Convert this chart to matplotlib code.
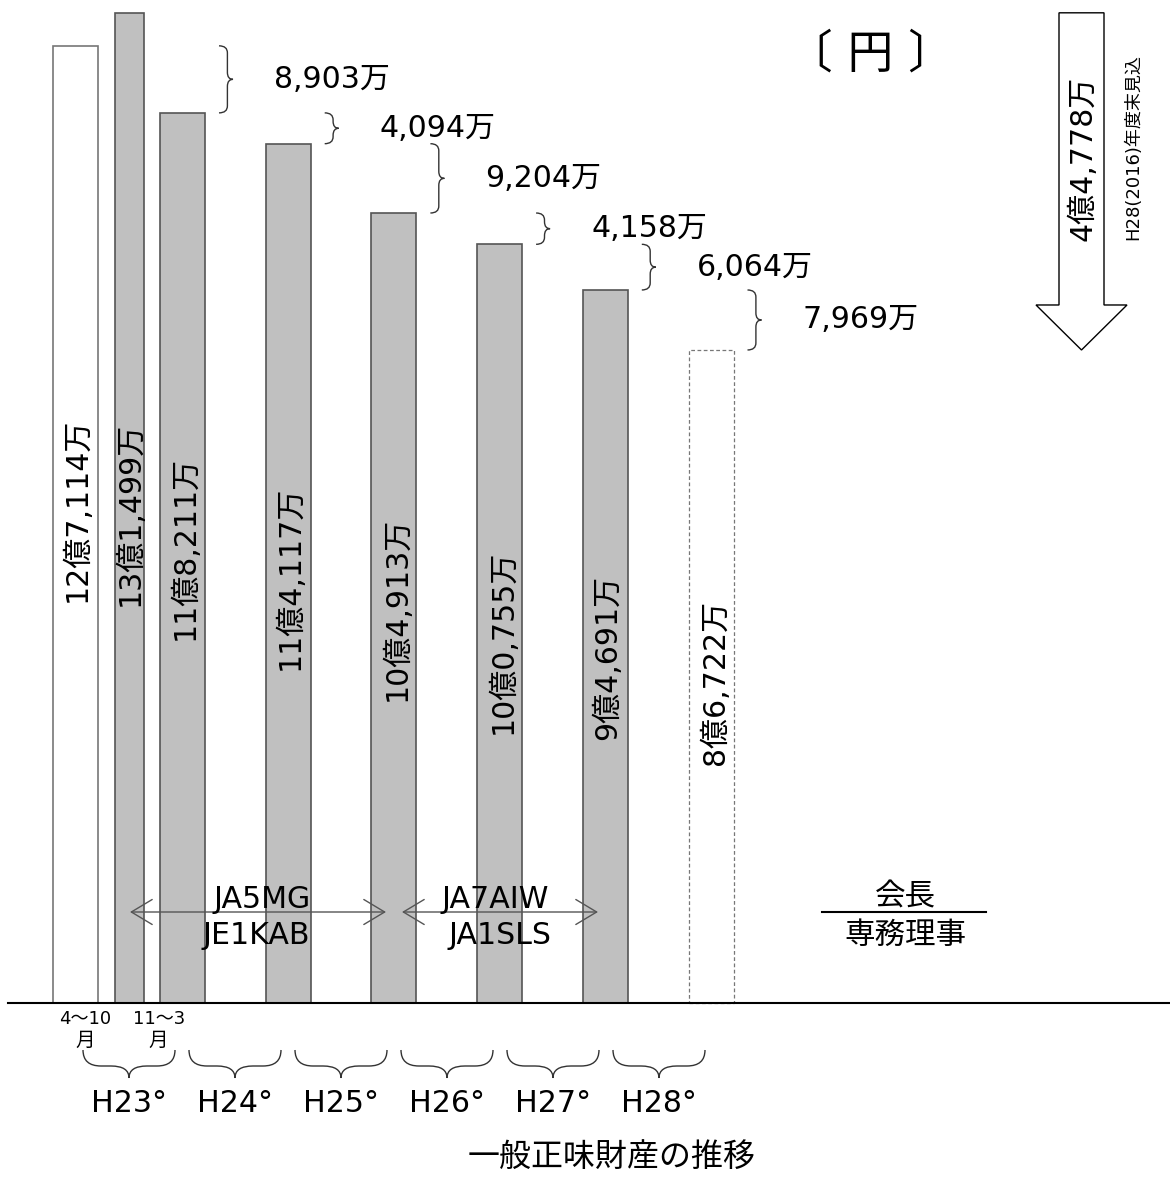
import matplotlib
matplotlib.use("Agg")
import matplotlib.pyplot as plt
from matplotlib.path import Path
from matplotlib.patches import PathPatch, Polygon

plt.rcParams["font.family"] = ["DejaVu Sans", "Noto Sans CJK JP"]

# 一般正味財産 (単位: 万円)
periods = ["H23 4~10月", "H23 11~3月", "H23", "H24", "H25", "H26", "H27", "H28"]
values = [127114, 131499, 118211, 114117, 104913, 100755, 94691, 86722]
years = ["H23°", "H24°", "H25°", "H26°", "H27°", "H28°"]
total_drop = 44778
# brace pairs (upper bar, lower bar)
pairs = [(0, 2), (2, 3), (3, 4), (4, 5), (5, 6), (6, 7)]

# layout (pixels of a 1170x1183 canvas)
W, H = 1170, 1183
BASE_PX = 1003
PX = 0.00753  # px per 万
bar_x = [75.5, 129.5] + [182.5 + 105.7 * k for k in range(6)]
bar_w = [45, 29, 45, 45, 45, 45, 45, 45]
label_y = [510, 514, 548, 578, 609, 642, 657, 682]
label_dx = [2, 1, 3, 2, 3, 3, 2, 4]
FS = 21.6


def Y(px):
    return (BASE_PX - px) / PX


def oku(v):
    rem = f"{v % 10000:04d}"
    return f"{v // 10000}億{rem[0]},{rem[1:]}万"


def vbrace(ax, x0, w, y_top, y_bot, r_px=7):
    hpx = (y_top - y_bot) * PX
    r = min(r_px, hpx / 4) / PX
    xs, xt = x0 + 0.6 * w, x0 + w
    ym = (y_top + y_bot) / 2
    verts = [(x0, y_top), (xs, y_top), (xs, y_top - r), (xs, ym + r),
             (xs, ym), (xt, ym), (xs, ym), (xs, ym - r),
             (xs, y_bot + r), (xs, y_bot), (x0, y_bot)]
    codes = [Path.MOVETO, Path.CURVE3, Path.CURVE3, Path.LINETO,
             Path.CURVE3, Path.CURVE3, Path.CURVE3, Path.CURVE3,
             Path.LINETO, Path.CURVE3, Path.CURVE3]
    ax.add_patch(PathPatch(Path(verts, codes), fc="none", ec="#333", lw=1))


def hbrace(ax, xa, xb, ye, ysp, yt, rx=18):
    xm = (xa + xb) / 2
    verts = [(xa, ye), (xa, ysp), (xa + rx, ysp), (xm - rx, ysp),
             (xm, ysp), (xm, yt), (xm, ysp), (xm + rx, ysp),
             (xb - rx, ysp), (xb, ysp), (xb, ye)]
    codes = [Path.MOVETO, Path.CURVE3, Path.CURVE3, Path.LINETO,
             Path.CURVE3, Path.CURVE3, Path.CURVE3, Path.CURVE3,
             Path.LINETO, Path.CURVE3, Path.CURVE3]
    ax.add_patch(PathPatch(Path(verts, codes), fc="none", ec="#333", lw=1))


fig = plt.figure(figsize=(W / 100, H / 100), dpi=100)
ax = fig.add_axes([0, 0, 1, 1])
ax.set_xlim(0, W)
ax.set_ylim(Y(H), Y(0))
ax.axis("off")

faces = ["white"] + ["#c0c0c0"] * 6 + ["white"]
edges = ["#777"] + ["#555"] * 6 + ["#777"]
bars = ax.bar(bar_x, values, width=bar_w, color=faces, edgecolor=edges,
              linewidth=1.2, zorder=2)
bars[-1].set_linestyle((0, (3, 2)))
bars[-1].set_linewidth(0.9)

for i, v in enumerate(values):
    ax.text(bar_x[i] + label_dx[i], Y(label_y[i]), oku(v), rotation=90,
            ha="center", va="center", fontsize=FS, zorder=3)

# baseline
ax.plot([8, W], [0, 0], color="black", lw=1.5, zorder=4)

# differences between bar tops
for hi, lo in pairs:
    right = bar_x[lo] + bar_w[lo] / 2
    x0 = right + 14
    vbrace(ax, x0, 14, values[hi], values[lo])
    ymid = (values[hi] + values[lo]) / 2
    ax.text(x0 + 14 + 41, ymid, f"{values[hi] - values[lo]:,}万",
            ha="left", va="center", fontsize=FS)

# total decrease arrow
sx0, sx1, hx0, hx1 = 1059, 1104, 1036, 1127
top, tip = values[1], values[-1]
head = tip + 45 / PX
ax.add_patch(Polygon([(sx0, top), (sx1, top), (sx1, head), (hx1, head),
                      ((hx0 + hx1) / 2, tip), (hx0, head), (sx0, head)],
                     closed=True, fc="white", ec="black", lw=1))
ax.text(1083, Y(158), f"{total_drop // 10000}億{total_drop % 10000:,}万",
        rotation=90, ha="center", va="center", fontsize=FS)
ax.text(1133, Y(147), "H28(2016)年度末見込", rotation=90,
        ha="center", va="center", fontsize=13)

ax.text(870, Y(55), "〔 円 〕", ha="center", va="center", fontsize=33)

# terms of office
for x0, x1 in [(130, 386), (402, 598)]:
    ax.annotate("", xy=(x1, Y(912)), xytext=(x0, Y(912)),
                arrowprops=dict(arrowstyle="<->,head_length=0.75,head_width=0.45",
                                color="#555", lw=1, shrinkA=0, shrinkB=0,
                                mutation_scale=20), zorder=3)
ax.text(262, Y(900), "JA5MG", ha="center", va="center", fontsize=FS, zorder=4)
ax.text(256, Y(935), "JE1KAB", ha="center", va="center", fontsize=FS, zorder=4)
ax.text(495, Y(900), "JA7AIW", ha="center", va="center", fontsize=FS, zorder=4)
ax.text(500, Y(935), "JA1SLS", ha="center", va="center", fontsize=FS, zorder=4)

ax.text(905, Y(897), "会長", ha="center", va="center", fontsize=22)
ax.plot([822, 986], [Y(912), Y(912)], color="black", lw=1.5)
ax.text(905, Y(935), "専務理事", ha="center", va="center", fontsize=22)

# period labels under the first two bars
ax.text(85, Y(1019), "4〜10", ha="center", va="center", fontsize=13)
ax.text(85, Y(1040), "月", ha="center", va="center", fontsize=14)
ax.text(159, Y(1019), "11〜3", ha="center", va="center", fontsize=13)
ax.text(158, Y(1040), "月", ha="center", va="center", fontsize=14)

# fiscal years
for k, yr in enumerate(years):
    xa = 83 + 106 * k
    xb = xa + 92
    hbrace(ax, xa, xb, Y(1050), Y(1066), Y(1078))
    ax.text((xa + xb) / 2, Y(1103), yr, ha="center", va="center", fontsize=FS)

ax.text(612, Y(1157), "一般正味財産の推移", ha="center", va="center", fontsize=23)

fig.savefig("out.png", dpi=100)
